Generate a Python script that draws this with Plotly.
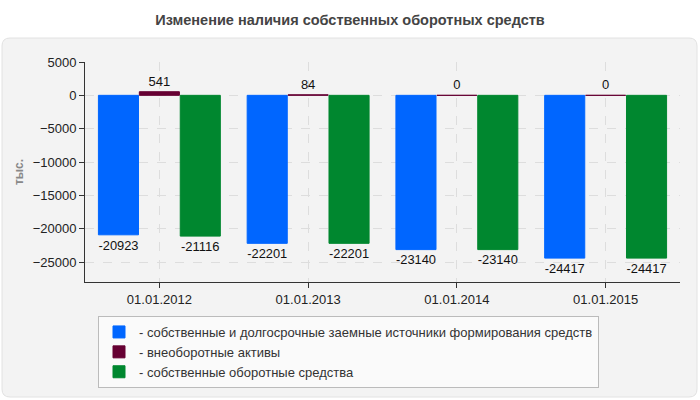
import plotly.graph_objects as go

# data
dates = ['01.01.2012', '01.01.2013', '01.01.2014', '01.01.2015']
own_and_long_term = [-20923, -22201, -23140, -24417]
non_current_assets = [541, 84, 0, 0]
own_working_capital = [-21116, -22201, -23140, -24417]

series_names = [
    '- собственные и долгосрочные заемные источники формирования средств',
    '- внеоборотные активы',
    '- собственные оборотные средства',
]
series_colors = ['#0066ff', '#660033', '#00872f']

fig = go.Figure()
for name, vals, col in zip(series_names,
                           [own_and_long_term, non_current_assets, own_working_capital],
                           series_colors):
    fig.add_trace(go.Bar(
        x=dates, y=vals, name=name,
        marker=dict(color=col, line=dict(color=col, width=1)),
        text=[str(v) for v in vals], textposition='outside',
        textfont=dict(size=13, color='#111'),
        cliponaxis=False,
    ))

# plot area in pixels: x 85..680, y 62..282  -> helpers for paper coords
def px_x(p):
    return (p - 85) / 595

def px_y(p):
    return (282 - p) / 220

# grey panel behind everything and the title separator
x0, x1, y0, y1, r = px_x(2), px_x(697), px_y(38), px_y(397), 8 / 595
ry = 8 / 220
panel = (f'M {x0 + r},{y0} L {x1 - r},{y0} Q {x1},{y0} {x1},{y0 - ry} '
         f'L {x1},{y1 + ry} Q {x1},{y1} {x1 - r},{y1} L {x0 + r},{y1} '
         f'Q {x0},{y1} {x0},{y1 + ry} L {x0},{y0 - ry} Q {x0},{y0} {x0 + r},{y0} Z')

fig.update_layout(
    width=700, height=400,
    margin=dict(l=85, r=20, t=62, b=118, autoexpand=False),
    paper_bgcolor='white',
    plot_bgcolor='#fafaf6',
    font=dict(family='Liberation Sans, Arial, sans-serif', size=13, color='#222'),
    title=dict(text='<b>Изменение наличия собственных оборотных средств</b>',
               x=0.5, xanchor='center', y=0.95, yanchor='middle',
               font=dict(size=14.5, color='#444')),
    barmode='group', bargap=0.175, bargroupgap=0.02,
    showlegend=True,
    legend=dict(x=px_x(98), y=px_y(316), xanchor='left', yanchor='top',
                bgcolor='#fafafa', bordercolor='#bbbbbb', borderwidth=1,
                font=dict(size=13, color='#333'),
                itemwidth=30, tracegroupgap=0),
    shapes=[dict(type='path', path=panel, xref='paper', yref='paper',
                 fillcolor='#f3f3f3', line=dict(color='#e2e2e2', width=1),
                 layer='below')],
)

fig.update_yaxes(
    range=[-28000, 5000], tickvals=[5000, 0, -5000, -10000, -15000, -20000, -25000],
    tickformat='d', automargin=False,
    showline=True, linecolor='#333', linewidth=1,
    ticks='outside', ticklen=5, tickcolor='#333',
    gridcolor='#dddddd', griddash='dash', zeroline=False,
    title=dict(text='<b>тыс.</b>', font=dict(size=12, color='#888'), standoff=6),
)
fig.update_xaxes(
    automargin=False,
    showline=True, linecolor='#333', linewidth=1,
    ticks='outside', ticklen=5, tickcolor='#333',
    showgrid=True, gridcolor='#dddddd', griddash='dash',
)

# drop the browser's default page margin so the figure sits at 0,0
fig.write_html("out.html", config={'displayModeBar': False},
               post_script="document.body.style.margin='0';")
